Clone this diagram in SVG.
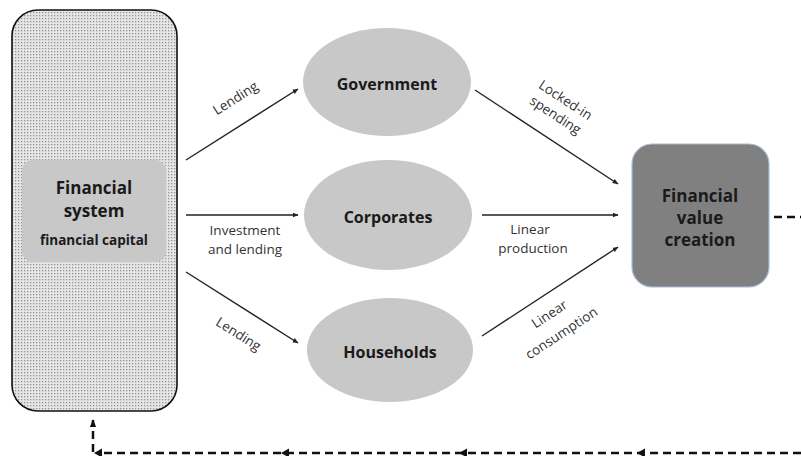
<svg xmlns="http://www.w3.org/2000/svg" width="801" height="456" viewBox="0 0 801 456">
<style>
.lbl{font-family:"Open Sans","Liberation Sans",sans-serif;font-size:13.5px;fill:#333;text-anchor:middle}
.node{font-family:"Open Sans","Liberation Sans",sans-serif;font-weight:bold;font-size:16px;fill:#1a1a1a;text-anchor:middle}
.ell{fill:#c8c8c8}
.arr{stroke:#222;stroke-width:1.4;fill:none;marker-end:url(#ah)}
.dash{stroke:#111;stroke-width:2.5;fill:none;stroke-dasharray:8 5}
</style>
<defs>
<pattern id="dots" width="3" height="3" patternUnits="userSpaceOnUse">
<rect width="3" height="3" fill="#e6e6e6"/>
<rect width="1.3" height="1.3" fill="#939393"/>
</pattern>
<marker id="ah" viewBox="0 0 10 10" refX="9" refY="5" markerWidth="6" markerHeight="6" orient="auto" markerUnits="userSpaceOnUse">
<path d="M0,1 L10,5 L0,9 z" fill="#222"/>
</marker>
<marker id="dh" viewBox="0 0 10 10" refX="9" refY="5" markerWidth="8" markerHeight="8" orient="auto" markerUnits="userSpaceOnUse">
<path d="M0,1 L10,5 L0,9 z" fill="#111"/>
</marker>
</defs>
<rect width="801" height="456" fill="#fff"/>

<g id="financial-system">
<rect x="12" y="10" width="165" height="401" rx="26" fill="url(#dots)" stroke="#111" stroke-width="1.6"/>
<rect x="22" y="160" width="144" height="102" rx="11" fill="#c8c8c8"/>
<text class="node" x="94" y="194" style="font-size:17px">Financial</text>
<text class="node" x="94" y="217" style="font-size:17px">system</text>
<text class="node" x="94" y="245" style="font-size:13.5px">financial capital</text>
</g>

<g id="government">
<ellipse class="ell" cx="387" cy="82" rx="84" ry="54"/>
<text class="node" x="387" y="90">Government</text>
</g>
<g id="corporates">
<ellipse class="ell" cx="388" cy="215" rx="84" ry="55"/>
<text class="node" x="388" y="223">Corporates</text>
</g>
<g id="households">
<ellipse class="ell" cx="390" cy="350" rx="83" ry="52"/>
<text class="node" x="390" y="358">Households</text>
</g>

<g id="value-creation">
<rect x="632" y="144" width="137" height="143" rx="20" fill="#808080" stroke="#a9bdd3" stroke-width="1.2"/>
<text class="node" x="700" y="202" style="font-size:17px">Financial</text>
<text class="node" x="700" y="224" style="font-size:17px">value</text>
<text class="node" x="700" y="246" style="font-size:17px">creation</text>
</g>

<g id="connectors">
<line class="arr" x1="186" y1="160" x2="298" y2="89"/>
<line class="arr" x1="186" y1="215" x2="298" y2="215"/>
<line class="arr" x1="186" y1="272" x2="298" y2="343"/>
<line class="arr" x1="475" y1="90" x2="618" y2="184"/>
<line class="arr" x1="482" y1="215" x2="618" y2="215"/>
<line class="arr" x1="482" y1="336" x2="618" y2="247"/>
<line class="dash" x1="774" y1="217" x2="801" y2="217"/>
<path class="dash" d="M801,453 L98,453"/>
<line class="dash" x1="93" y1="452" x2="93" y2="420" marker-end="url(#dh)"/>
<path d="M94,453 L102,448.5 L102,457.5 z" fill="#111"/>
<path d="M281,453 L289,448.5 L289,457.5 z" fill="#111"/>
<path d="M459,453 L467,448.5 L467,457.5 z" fill="#111"/>
<path d="M637,453 L645,448.5 L645,457.5 z" fill="#111"/>
</g>

<g id="labels">
<text class="lbl" transform="translate(238,102) rotate(-32.6)">Lending</text>
<text class="lbl" x="245" y="235">Investment</text>
<text class="lbl" x="245" y="254">and lending</text>
<text class="lbl" transform="translate(236,338) rotate(32.4)">Lending</text>
<text class="lbl" transform="translate(563,104) rotate(33.3)">Locked-in</text>
<text class="lbl" transform="translate(553,119) rotate(33.3)">spending</text>
<text class="lbl" x="530" y="234">Linear</text>
<text class="lbl" x="533" y="253">production</text>
<text class="lbl" transform="translate(552,318) rotate(-33.2)">Linear</text>
<text class="lbl" transform="translate(564,337) rotate(-33.2)">consumption</text>
</g>
</svg>
